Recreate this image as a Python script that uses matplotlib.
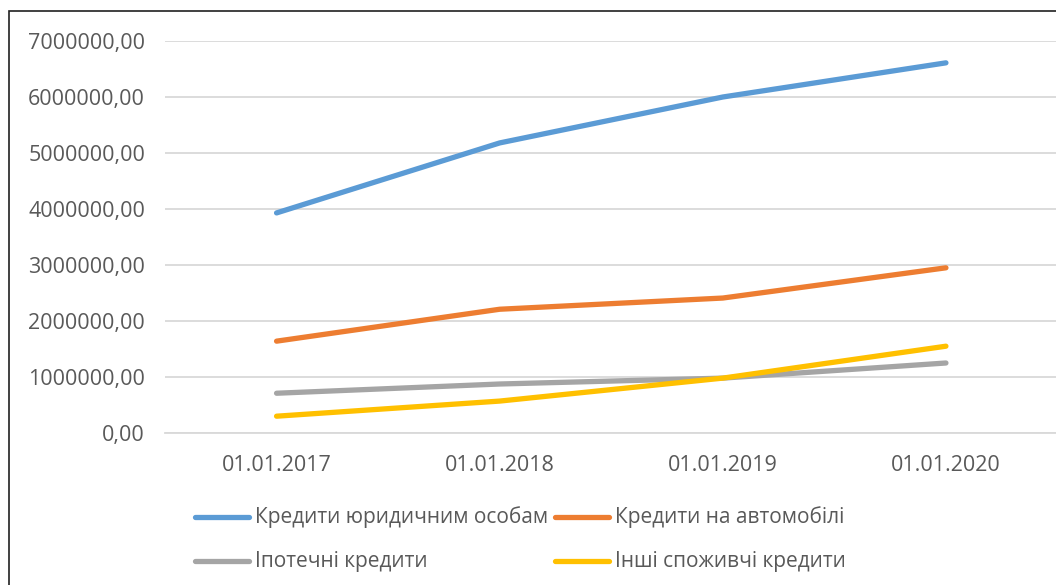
import matplotlib
matplotlib.use("Agg")
import matplotlib.pyplot as plt
from matplotlib.lines import Line2D
from matplotlib.patches import Rectangle
from matplotlib.ticker import FuncFormatter

categories = ["01.01.2017", "01.01.2018", "01.01.2019", "01.01.2020"]
legal_entities = [3930000, 5180000, 6000000, 6610000]
car_loans = [1640000, 2210000, 2410000, 2950000]
mortgage = [710000, 875000, 980000, 1250000]
other_consumer = [300000, 570000, 980000, 1550000]
series_names = ["Кредити юридичним особам", "Кредити на автомобілі",
                "Іпотечні кредити", "Інші споживчі кредити"]
colors = ["#5B9BD5", "#ED7D31", "#A5A5A5", "#FFC000"]
yticks = [0, 1000000, 2000000, 3000000, 4000000, 5000000, 6000000, 7000000]

plt.rcParams['font.family'] = ['Open Sans', 'DejaVu Sans']
W, H = 1056, 585
fig = plt.figure(figsize=(W / 100, H / 100), dpi=100)
fig.patch.set_facecolor("white")

# chart border
fig.patches.append(Rectangle((9 / W, -0.05), 1.2, 1 - 11 / H + 0.05, transform=fig.transFigure,
                             fill=False, edgecolor="#202020", linewidth=1.2))

left, right = 165 / W, 1057.5 / W
bottom, top = 1 - 433 / H, 1 - 41 / H
ax = fig.add_axes([left, bottom, right - left, top - bottom])
ax.set_facecolor("none")

x = list(range(len(categories)))
data = [legal_entities, car_loans, mortgage, other_consumer]
for vals, c, name in zip(data, colors, series_names):
    ax.plot(x, vals, color=c, linewidth=3.8, solid_capstyle="round", solid_joinstyle="round",
            label=name, zorder=3)

ax.set_xlim(-0.5, 3.5)
ax.set_ylim(0, 7000000)
ax.set_yticks(yticks)
ax.yaxis.set_major_formatter(FuncFormatter(lambda v, p: f"{int(v)},00"))
ax.set_xticks(x)
ax.set_xticklabels(categories)
ax.grid(axis="y", color="#D9D9D9", linewidth=1.3, zorder=0)
for s in ["top", "right", "left"]:
    ax.spines[s].set_visible(False)
ax.spines["bottom"].set_color("#D9D9D9")
ax.spines["bottom"].set_linewidth(1.3)
ax.tick_params(axis="both", length=0, labelsize=15.5, labelcolor="#595959")
ax.tick_params(axis="y", pad=14.4)
ax.tick_params(axis="x", pad=15.5)

# legend
legend_pos = [(195, 517), (555, 517), (195, 561), (555, 561)]
for (lx, ly), c, name in zip(legend_pos, colors, series_names):
    fig.add_artist(Line2D([lx / W, (lx + 54) / W], [1 - ly / H, 1 - ly / H], transform=fig.transFigure,
                          color=c, linewidth=3.8, solid_capstyle="round"))
    fig.text((lx + 60) / W, 1 - ly / H, name, fontsize=15, color="#595959", va="center", ha="left")

fig.savefig("out.png", dpi=100)
